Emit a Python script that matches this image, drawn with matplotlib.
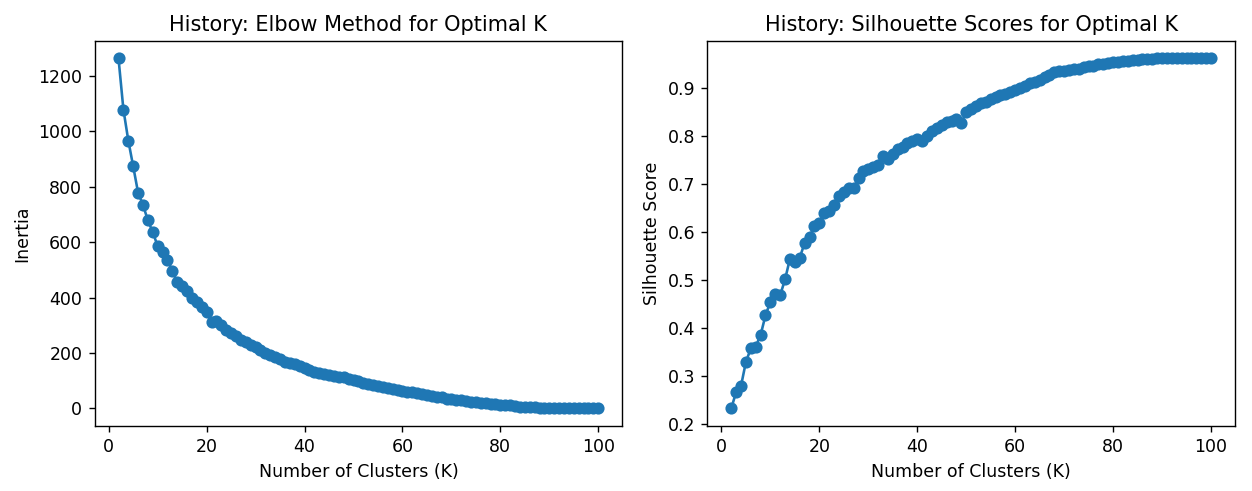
import matplotlib
matplotlib.use("Agg")
import matplotlib.pyplot as plt

# number of clusters tried
k_values = list(range(2, 101))

# inertia
inertia = [
    1262, 1078, 966, 873, 778, 734, 678, 636, 585, 566,
    536, 496, 455, 440, 425, 400, 385, 365, 348, 312,
    314, 300, 282, 272, 260, 248, 238, 228, 220, 210,
    200, 192, 186, 178, 168, 163, 160, 152, 146, 140,
    132, 127, 124, 119, 117, 114, 112, 108, 103, 98,
    93, 89, 85, 82, 78, 74, 70, 67, 64, 61,
    58, 55, 52, 49, 46, 43, 40, 36, 33, 31,
    29, 27, 25, 23, 21, 19, 17, 16, 14, 13,
    11, 9, 7, 6, 5, 4, 3, 2, 1.5, 1,
    0.8, 0.6, 0.4, 0.3, 0.2, 0.1, 0.05, 0.02, 0,
]

# silhouette scores
silhouette = [
    0.233, 0.267, 0.280, 0.330, 0.358, 0.362, 0.386, 0.427, 0.455, 0.472,
    0.469, 0.502, 0.545, 0.538, 0.547, 0.578, 0.590, 0.614, 0.619, 0.641,
    0.644, 0.656, 0.676, 0.684, 0.693, 0.692, 0.714, 0.728, 0.731, 0.737,
    0.740, 0.759, 0.752, 0.763, 0.773, 0.778, 0.785, 0.790, 0.794, 0.790,
    0.800, 0.812, 0.818, 0.824, 0.829, 0.832, 0.835, 0.828, 0.850, 0.856,
    0.864, 0.870, 0.872, 0.877, 0.881, 0.885, 0.889, 0.893, 0.897, 0.901,
    0.905, 0.910, 0.914, 0.918, 0.923, 0.928, 0.934, 0.937, 0.937, 0.939,
    0.940, 0.941, 0.944, 0.946, 0.947, 0.950, 0.951, 0.953, 0.954, 0.955,
    0.956, 0.957, 0.958, 0.959, 0.960, 0.961, 0.961, 0.962, 0.962, 0.962,
    0.962, 0.962, 0.962, 0.962, 0.962, 0.962, 0.962, 0.962, 0.962,
]

assert len(inertia) == len(k_values) == len(silhouette)

# original looks like a 125 dpi render, so keep default sizes and scale via dpi
fig, (ax1, ax2) = plt.subplots(1, 2, figsize=(10.016, 3.928), dpi=125)
fig.subplots_adjust(left=0.0755, right=0.9864, bottom=0.1324, top=0.9165, wspace=0.161)

ax1.plot(k_values, inertia, marker="o")
ax1.set_title("History: Elbow Method for Optimal K")
ax1.set_xlabel("Number of Clusters (K)")
ax1.set_ylabel("Inertia")

ax2.plot(k_values, silhouette, marker="o")
ax2.set_title("History: Silhouette Scores for Optimal K")
ax2.set_xlabel("Number of Clusters (K)")
ax2.set_ylabel("Silhouette Score")

fig.savefig("out.png", dpi=125)
plt.close(fig)
